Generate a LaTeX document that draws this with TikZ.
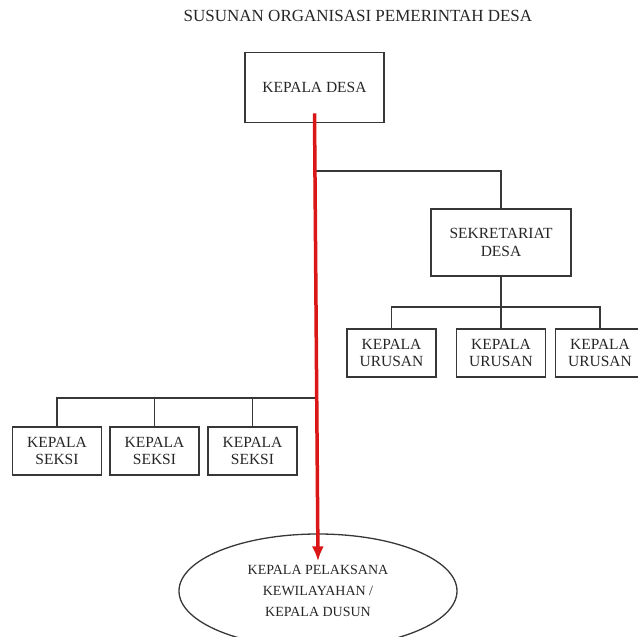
\documentclass[tikz,border=0pt]{standalone}
\usepackage{fontspec}
\setmainfont{Liberation Serif}
\usetikzlibrary{arrows.meta,shapes.geometric}

\definecolor{linegray}{RGB}{55,55,55}
\definecolor{arrowred}{RGB}{218,22,22}

\begin{document}
\begin{tikzpicture}[>=Latex,x=1pt,y=-1pt,
    every node/.style={align=center,text=black!85,font=\fontsize{15.5}{17.5}\selectfont},
    unit/.style={draw=linegray,line width=1.4pt,minimum width=89pt,minimum height=48pt,inner sep=0pt},
    link/.style={draw=linegray,line width=1.2pt}]
    \clip (0,0) rectangle (638,637);
    \node[font=\fontsize{17}{20}\selectfont] (title) at (358,16) {SUSUNAN ORGANISASI PEMERINTAH DESA};
    \node[unit,minimum width=139pt,minimum height=70pt] (kd) at (314.5,87.7) {KEPALA DESA};
    \node[unit,minimum width=140pt,minimum height=67pt] (sek) at (501,242.5) {SEKRETARIAT\\DESA};
    \node[unit] (u1) at (391.5,353) {KEPALA\\URUSAN};
    \node[unit] (u2) at (501,353) {KEPALA\\URUSAN};
    \node[unit] (u3) at (600,353) {KEPALA\\URUSAN};
    \node[unit] (s1) at (57,451) {KEPALA\\SEKSI};
    \node[unit] (s2) at (154.5,451) {KEPALA\\SEKSI};
    \node[unit] (s3) at (252.5,451) {KEPALA\\SEKSI};
    \node[ellipse,draw=linegray,line width=1.3pt,minimum width=278pt,minimum height=114pt,inner sep=0pt,
      font=\fontsize{14}{21}\selectfont] (dusun) at (318,591) {KEPALA PELAKSANA\\KEWILAYAHAN /\\KEPALA DUSUN};
    \coordinate (j1) at (315,171);
    \coordinate (j2) at (315,398);
    \coordinate (j3) at (501,307);
    \draw[link] (j1) -| (sek.north);
    \draw[link] (sek.south) -- (j3);
    \draw[link] (j3) -| (u1.north);
    \draw[link] (j3) -- (u2.north);
    \draw[link] (j3) -| (u3.north);
    \draw[link] (j2) -| (s1.north);
    \draw[link] (j2) -| (s2.north);
    \draw[link] (j2) -| (s3.north);
    \draw[->,draw=arrowred,fill=arrowred,line width=3.5pt,arrows={-Latex[length=15pt,width=12pt]}]
      ([yshift=10pt]kd.south) -- ([yshift=-28pt]dusun.north);
\end{tikzpicture}
\end{document}
